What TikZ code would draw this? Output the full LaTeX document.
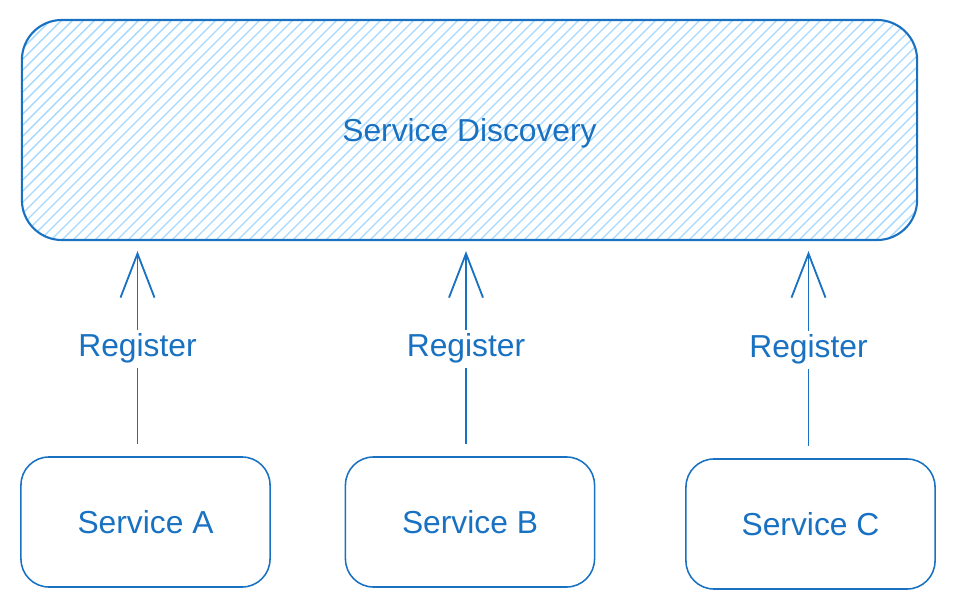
\documentclass[tikz,border=0pt]{standalone}
\usepackage{fontspec}
\setmainfont{Liberation Sans}
\usetikzlibrary{arrows.meta,positioning}
\definecolor{sdblue}{HTML}{1971C2}
\definecolor{sdhatch}{HTML}{A5D8FF}

\begin{document}
\begin{tikzpicture}[
  x=0.025cm, y=-0.025cm,
  font=\fontsize{22.6}{27}\selectfont,
  registry/.style={
    draw=sdblue, line width=1.5pt, rounded corners=1cm, text=sdblue,
    minimum width=22.375cm, minimum height=5.5cm, text height=21pt,
    path picture={
      \foreach \k in {0,...,105}
        \draw[sdhatch, line width=0.9pt]
          ([xshift=\k*0.275cm-5.6cm]path picture bounding box.south west)
          -- ++(6cm,6cm);
    }},
  svc/.style={
    draw=sdblue, line width=1.1pt, rounded corners=0.7cm, text=sdblue,
    minimum width=6.225cm, minimum height=3.25cm},
  reg/.style={-{Straight Barb[length=1.1cm, width=0.85cm]}, sdblue,
              line width=1.3pt, shorten <=0.3cm, shorten >=0.25cm},
  lbl/.style={fill=white, text=sdblue, inner sep=3pt},
]
\useasboundingbox (0,0) rectangle (955,609);

% ================= registry ========================================
\node[registry] (disc) at (469.5,130) {Service Discovery};

% ================= services ========================================
\node[svc] (sa) at (145.5,522) {Service A};
\node[svc] (sb) at (470,522)   {Service B};
\node[svc] (sc) at (810.5,524) {Service C};

% ================= registration ====================================
\foreach \s/\dx in {sa/-8,sb/-4,sc/-2}
  \draw[reg] ([xshift=\dx*0.025cm]\s.north)
    -- node[lbl] {Register} ([xshift=\dx*0.025cm]\s.north |- disc.south);

\end{tikzpicture}
\end{document}
